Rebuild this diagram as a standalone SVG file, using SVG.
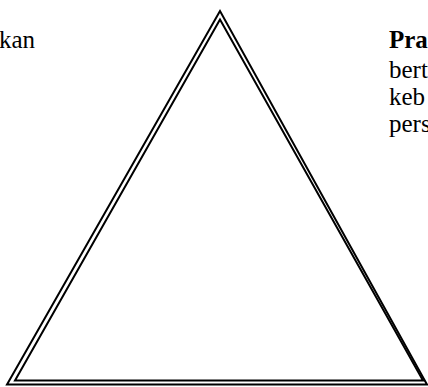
<svg xmlns="http://www.w3.org/2000/svg" width="428" height="387" viewBox="0 0 428 387">
<style>
.t{font-family:"Liberation Serif","Times New Roman",serif;font-size:25px;fill:#000}
.b{font-weight:bold}
.tri{fill:none;stroke:#000;stroke-width:2}
</style>
<rect width="428" height="387" fill="#fff"/>
<g id="triangle">
<polygon class="tri" points="220,11 7,384.5 427,384.5"/>
<polygon class="tri" points="220,19.5 15,380.5 423,380.5"/>
</g>
<g id="text-left">
<text class="t" x="-1" y="48">kan</text>
</g>
<g id="text-right">
<text class="t b" x="389" y="48">Pra</text>
<text class="t" x="389" y="78">bert</text>
<text class="t" x="389" y="105">keb</text>
<text class="t" x="389" y="132">pers</text>
</g>
</svg>
